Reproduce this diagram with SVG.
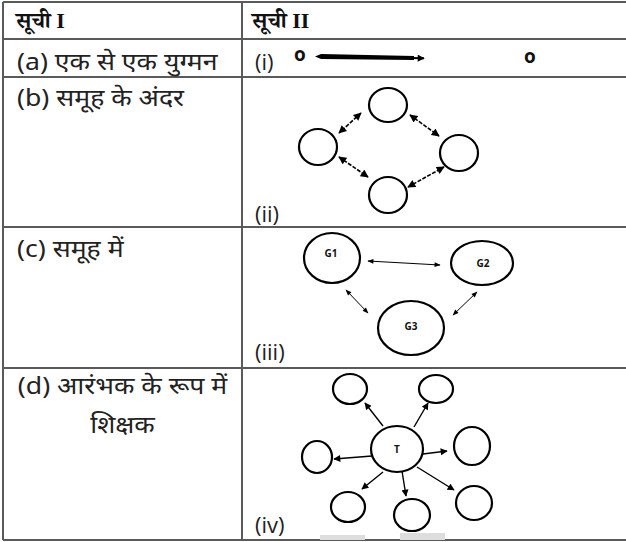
<svg xmlns="http://www.w3.org/2000/svg" width="626" height="542" viewBox="0 0 626 542">
<defs>
<style>
.grid{stroke:#5a5a5a;stroke-width:2;fill:none}
.t{font-family:"Noto Sans","Noto Sans Devanagari","Open Sans",sans-serif;font-size:24px;fill:#222}
.r{font-family:"Open Sans","Noto Sans",sans-serif;font-size:22px;fill:#222}
.h{font-family:"Liberation Serif","Noto Serif Devanagari","Noto Sans Devanagari",serif;font-size:22px;font-weight:bold;fill:#111}
.n{fill:#fff;stroke:#000;stroke-width:2.2}
.lab{font-family:"Open Sans","Liberation Sans",sans-serif;font-size:10px;font-weight:bold;fill:#111;text-anchor:middle;dominant-baseline:central}
.e2{stroke:#000;stroke-width:1.6;stroke-dasharray:4 1.5;fill:none;marker-start:url(#hb);marker-end:url(#hb)}
.e3{stroke:#000;stroke-width:1;fill:none;marker-start:url(#hs);marker-end:url(#hs)}
.e4{stroke:#000;stroke-width:1.4;fill:none;marker-end:url(#hm)}
</style>
<marker id="hb" viewBox="0 0 10 10" refX="9" refY="5" markerWidth="9" markerHeight="8" markerUnits="userSpaceOnUse" orient="auto-start-reverse"><path d="M0,0 L10,5 L0,10 z" fill="#000"/></marker>
<marker id="hs" viewBox="0 0 10 10" refX="9" refY="5" markerWidth="7" markerHeight="6" markerUnits="userSpaceOnUse" orient="auto-start-reverse"><path d="M0,1 L10,5 L0,9 z" fill="#000"/></marker>
<marker id="hm" viewBox="0 0 10 10" refX="9" refY="5" markerWidth="8" markerHeight="7" markerUnits="userSpaceOnUse" orient="auto"><path d="M0,0 L10,5 L0,10 z" fill="#000"/></marker>
<marker id="ha" viewBox="0 0 10 10" refX="9" refY="5" markerWidth="9" markerHeight="7" markerUnits="userSpaceOnUse" orient="auto"><path d="M0,0 L10,5 L0,10 z" fill="#000"/></marker>
</defs>
<rect width="626" height="542" fill="#fff"/>
<g id="table">
<line class="grid" x1="3" y1="2" x2="626" y2="2"/>
<line class="grid" x1="3" y1="39" x2="626" y2="39"/>
<line class="grid" x1="3" y1="77" x2="626" y2="77"/>
<line class="grid" x1="3" y1="227" x2="626" y2="227"/>
<line class="grid" x1="3" y1="368" x2="626" y2="368"/>
<line class="grid" x1="3" y1="540" x2="626" y2="540" stroke="#999"/>
<line class="grid" x1="3" y1="2" x2="3" y2="540"/>
<line class="grid" x1="242" y1="2" x2="242" y2="540"/>
</g>
<g id="texts">
<text class="h" x="16" y="28">सूची I</text>
<text class="h" x="252" y="28">सूची II</text>
<g transform="scale(1.11,1)">
<text class="t" x="15.3" y="70">(a) एक से एक युग्मन</text>
<text class="t" x="15.3" y="106">(b) समूह के अंदर</text>
<text class="t" x="15.3" y="257">(c) समूह में</text>
<text class="t" x="110.4" y="394" text-anchor="middle">(d) आरंभक के रूप में</text>
<text class="t" x="110.4" y="433" text-anchor="middle">शिक्षक</text>
</g>
<text class="r" x="255" y="70">(i)</text>
<text class="r" x="255" y="222">(ii)</text>
<text class="r" x="255" y="360">(iii)</text>
<text class="r" x="255" y="533">(iv)</text>
</g>
<g id="nodes-i">
<text x="300" y="61" font-family="Open Sans, Liberation Sans, sans-serif" font-size="19" font-weight="bold" text-anchor="middle" fill="#111">o</text>
<text x="530" y="63" font-family="Open Sans, Liberation Sans, sans-serif" font-size="19" font-weight="bold" text-anchor="middle" fill="#111">o</text>
</g>
<g id="nodes-ii">
<ellipse id="ii-top" class="n" cx="388" cy="105" rx="19" ry="17"/>
<ellipse id="ii-left" class="n" cx="318" cy="147" rx="19" ry="18"/>
<ellipse id="ii-right" class="n" cx="459" cy="153" rx="19" ry="18"/>
<ellipse id="ii-bottom" class="n" cx="388" cy="195" rx="19" ry="18"/>
</g>
<g id="nodes-iii">
<g id="G1"><ellipse class="n" cx="332" cy="258" rx="28" ry="25" stroke-width="1.6"/><text class="lab" x="331" y="253">G1</text></g>
<g id="G2"><ellipse class="n" cx="482" cy="263" rx="31" ry="22" stroke-width="1.6"/><text class="lab" x="483" y="263">G2</text></g>
<g id="G3"><ellipse class="n" cx="411" cy="328" rx="33" ry="27" stroke-width="1.6"/><text class="lab" x="411" y="326">G3</text></g>
</g>
<g id="nodes-iv">
<g id="T"><ellipse class="n" cx="397" cy="449" rx="26" ry="23"/><text class="lab" x="397" y="449" font-size="11">T</text></g>
<ellipse id="iv-tl" class="n" cx="350" cy="389" rx="17" ry="15"/>
<ellipse id="iv-tr" class="n" cx="436" cy="389" rx="17" ry="14"/>
<ellipse id="iv-r" class="n" cx="472" cy="446" rx="18" ry="19"/>
<ellipse id="iv-l" class="n" cx="317" cy="457" rx="15" ry="16"/>
<ellipse id="iv-bl" class="n" cx="348" cy="507" rx="17" ry="15"/>
<ellipse id="iv-bm" class="n" cx="412" cy="515" rx="18" ry="16"/>
<ellipse id="iv-br" class="n" cx="474" cy="503" rx="18" ry="17"/>
</g>
<g id="connectors">
<path d="M315,56.5 L321,54 L414,56 L414,60 L321,59 z" fill="#000"/>
<line x1="410" y1="58" x2="424" y2="58.3" stroke="#000" stroke-width="2" marker-end="url(#ha)"/>
<line class="e2" x1="361" y1="113" x2="339" y2="133"/>
<line class="e2" x1="410" y1="115" x2="439" y2="136"/>
<line class="e2" x1="339" y1="157" x2="368" y2="177"/>
<line class="e2" x1="408" y1="187" x2="444" y2="167"/>
<line class="e3" x1="368" y1="261" x2="440" y2="265"/>
<line class="e3" x1="346" y1="290" x2="368" y2="313"/>
<line class="e3" x1="477" y1="292" x2="453" y2="315"/>
<line class="e4" x1="383" y1="426" x2="365" y2="403"/>
<line class="e4" x1="414" y1="427" x2="428" y2="403"/>
<line class="e4" x1="423" y1="454" x2="447" y2="451"/>
<line class="e4" x1="372" y1="456" x2="334" y2="459"/>
<line class="e4" x1="383" y1="472" x2="362" y2="489"/>
<line class="e4" x1="402" y1="471" x2="406" y2="496"/>
<line class="e4" x1="417" y1="467" x2="454" y2="490"/>
</g>
<g id="artifacts">
<rect x="320" y="535" width="45" height="5" fill="#ddd"/>
<rect x="400" y="533" width="45" height="7" fill="#ddd"/>
</g>
</svg>
